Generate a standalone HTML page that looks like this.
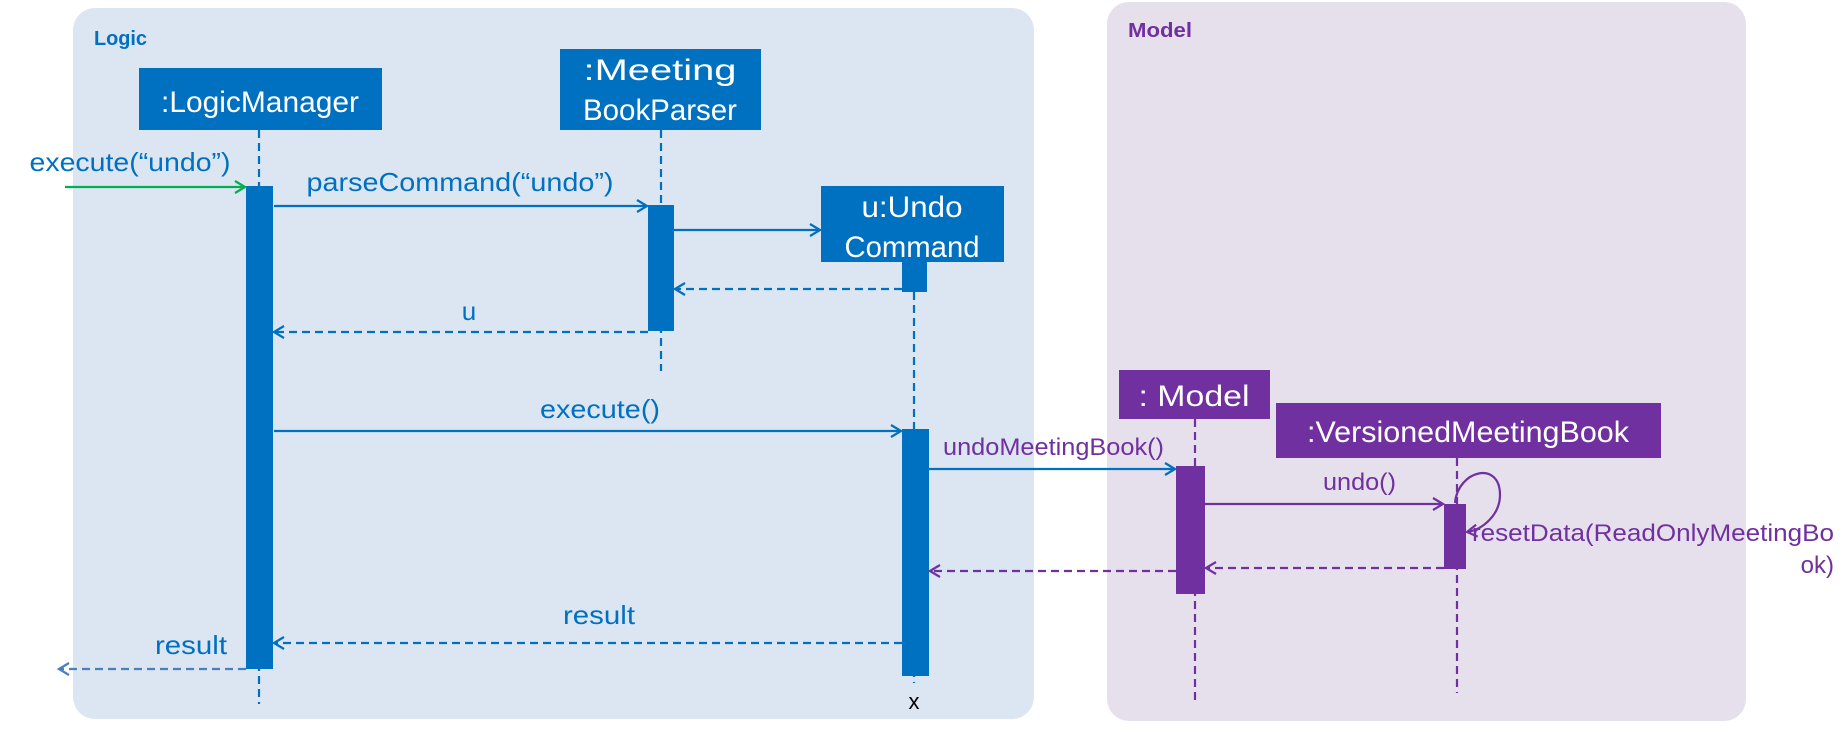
<!DOCTYPE html>
<html><head><meta charset="utf-8"><style>body{margin:0;background:#fff}svg{display:block}</style></head><body>
<svg width="1847" height="729" viewBox="0 0 1847 729" xmlns="http://www.w3.org/2000/svg" font-family="Liberation Sans, sans-serif">
<defs>
<marker id="ab" markerWidth="14" markerHeight="14" refX="12" refY="7" orient="auto" markerUnits="userSpaceOnUse"><path d="M2,1 L12,7 L2,13" fill="none" stroke="#0070C0" stroke-width="2.2"/></marker>
<marker id="ap" markerWidth="14" markerHeight="14" refX="12" refY="7" orient="auto" markerUnits="userSpaceOnUse"><path d="M2,1 L12,7 L2,13" fill="none" stroke="#7030A0" stroke-width="2.2"/></marker>
<marker id="ag" markerWidth="14" markerHeight="14" refX="12" refY="7" orient="auto" markerUnits="userSpaceOnUse"><path d="M2,1 L12,7 L2,13" fill="none" stroke="#00B050" stroke-width="2.2"/></marker>
<marker id="al" markerWidth="14" markerHeight="14" refX="12" refY="7" orient="auto" markerUnits="userSpaceOnUse"><path d="M2,1 L12,7 L2,13" fill="none" stroke="#4a7ebf" stroke-width="2.2"/></marker>
</defs>
<rect x="73" y="8" width="961" height="711" rx="22" fill="#dce6f2"/>
<rect x="1107" y="2" width="639" height="719" rx="22" fill="#e6e0ec"/>
<text x="94" y="45" font-size="20" font-weight="bold" fill="#0070C0" textLength="53" lengthAdjust="spacingAndGlyphs">Logic</text>
<text x="1128" y="37" font-size="20" font-weight="bold" fill="#7030A0" textLength="64" lengthAdjust="spacingAndGlyphs">Model</text>

<g stroke="#0070C0" stroke-width="2.2" stroke-dasharray="8,5">
<line x1="259" y1="130" x2="259" y2="704"/>
<line x1="661" y1="130" x2="661" y2="371"/>
<line x1="914" y1="292" x2="914" y2="683"/>
</g>
<g stroke="#7030A0" stroke-width="2.2" stroke-dasharray="8,5">
<line x1="1195" y1="419" x2="1195" y2="704"/>
<line x1="1457" y1="458" x2="1457" y2="693"/>
</g>

<g fill="#0070C0">
<rect x="139" y="68" width="243" height="62"/>
<rect x="560" y="49" width="201" height="81"/>
<rect x="821" y="186" width="183" height="76"/>
<rect x="902" y="262" width="25" height="30"/>
<rect x="246" y="186" width="27" height="483"/>
<rect x="648" y="205" width="26" height="126"/>
<rect x="902" y="429" width="27" height="247"/>
</g>
<g fill="#7030A0">
<rect x="1119" y="370" width="151" height="49"/>
<rect x="1276" y="403" width="385" height="55"/>
<rect x="1176" y="466" width="29" height="128"/>
<rect x="1444" y="504" width="22" height="65"/>
</g>
<g fill="#fff" font-size="30" text-anchor="middle">
<text x="260" y="112" textLength="198" lengthAdjust="spacingAndGlyphs">:LogicManager</text>
<text x="660" y="80" textLength="153" lengthAdjust="spacingAndGlyphs">:Meeting</text>
<text x="660" y="120" textLength="154" lengthAdjust="spacingAndGlyphs">BookParser</text>
<text x="912" y="217" textLength="101" lengthAdjust="spacingAndGlyphs">u:Undo</text>
<text x="912" y="257" textLength="135" lengthAdjust="spacingAndGlyphs">Command</text>
<text x="1194" y="406" textLength="111" lengthAdjust="spacingAndGlyphs">: Model</text>
<text x="1468" y="442" textLength="322" lengthAdjust="spacingAndGlyphs">:VersionedMeetingBook</text>
</g>

<g fill="none" stroke-width="2.2">
<line x1="65" y1="187" x2="245" y2="187" stroke="#00B050" marker-end="url(#ag)"/>
<line x1="274" y1="206" x2="647" y2="206" stroke="#0070C0" marker-end="url(#ab)"/>
<line x1="674" y1="230" x2="820" y2="230" stroke="#0070C0" marker-end="url(#ab)"/>
<line x1="902" y1="289" x2="675" y2="289" stroke="#0070C0" stroke-dasharray="8,5" marker-end="url(#ab)"/>
<line x1="648" y1="332" x2="274" y2="332" stroke="#0070C0" stroke-dasharray="8,5" marker-end="url(#ab)"/>
<line x1="274" y1="431" x2="901" y2="431" stroke="#0070C0" marker-end="url(#ab)"/>
<line x1="929" y1="469" x2="1175" y2="469" stroke="#0070C0" marker-end="url(#ab)"/>
<line x1="1205" y1="504" x2="1443" y2="504" stroke="#7030A0" marker-end="url(#ap)"/>
<path d="M1455,503 C1458,470 1500,460 1500,495 C1500,515 1482,530 1467,532" stroke="#7030A0" marker-end="url(#ap)"/>
<line x1="1444" y1="568" x2="1206" y2="568" stroke="#7030A0" stroke-dasharray="8,5" marker-end="url(#ap)"/>
<line x1="1176" y1="571" x2="930" y2="571" stroke="#7030A0" stroke-dasharray="8,5" marker-end="url(#ap)"/>
<line x1="902" y1="643" x2="274" y2="643" stroke="#0070C0" stroke-dasharray="8,5" marker-end="url(#ab)"/>
<line x1="246" y1="669" x2="59" y2="669" stroke="#4a7ebf" stroke-dasharray="8,5" marker-end="url(#al)"/>
</g>

<g font-size="26" fill="#0070C0" text-anchor="middle">
<text x="130" y="171" textLength="201" lengthAdjust="spacingAndGlyphs">execute(“undo”)</text>
<text x="460" y="191" textLength="307" lengthAdjust="spacingAndGlyphs">parseCommand(“undo”)</text>
<text x="469" y="320">u</text>
<text x="600" y="418" textLength="120" lengthAdjust="spacingAndGlyphs">execute()</text>
<text x="599" y="624" textLength="72" lengthAdjust="spacingAndGlyphs">result</text>
<text x="191" y="654" textLength="72" lengthAdjust="spacingAndGlyphs">result</text>
<text x="914" y="709" fill="#000" font-size="22">x</text>
</g>
<g font-size="24" fill="#7030A0">
<text x="943" y="455" textLength="221" lengthAdjust="spacingAndGlyphs">undoMeetingBook()</text>
<text x="1323" y="490" textLength="73" lengthAdjust="spacingAndGlyphs">undo()</text>
<text x="1472" y="541" textLength="362" lengthAdjust="spacingAndGlyphs">resetData(ReadOnlyMeetingBo</text>
<text x="1834" y="573" text-anchor="end">ok)</text>
</g>
</svg>
</body></html>
